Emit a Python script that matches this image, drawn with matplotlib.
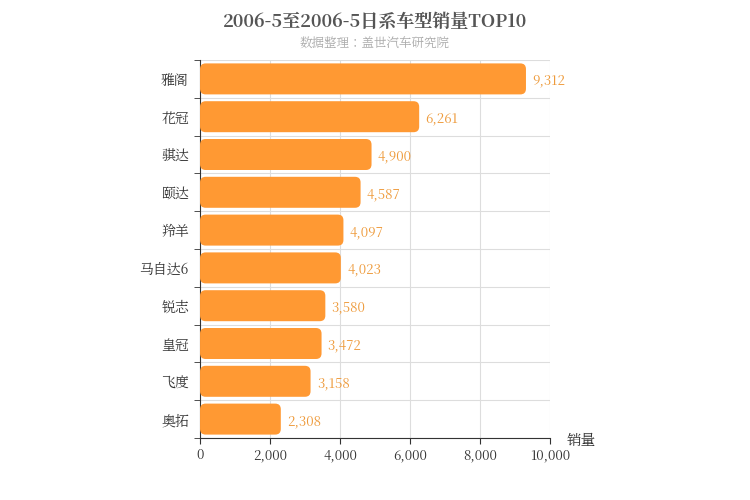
import matplotlib.pyplot as plt
from matplotlib import font_manager
from matplotlib.patches import FancyBboxPatch
from matplotlib.ticker import FixedLocator, FuncFormatter

# pick whatever CJK font is installed
cjk = [f.name for f in font_manager.fontManager.ttflist if "CJK" in f.name]
for f in font_manager.findSystemFonts():
    if "CJK" in f and not cjk:
        font_manager.fontManager.addfont(f)
        cjk = [font_manager.FontProperties(fname=f).get_name()]
pref = [n for n in cjk if "SC" in n] or cjk
plt.rcParams["font.family"] = "sans-serif"
plt.rcParams["font.sans-serif"] = pref[:1] + ["DejaVu Sans"]

models = ["雅阁", "花冠", "骐达", "颐达", "羚羊", "马自达6", "锐志", "皇冠", "飞度", "奥拓"]
sales = [9312, 6261, 4900, 4587, 4097, 4023, 3580, 3472, 3158, 2308]
x_ticks = [0, 2000, 4000, 6000, 8000, 10000]

fig = plt.figure(figsize=(7.5, 5), dpi=100)
ax = fig.add_axes([0.2667, 0.124, 0.4667, 0.756])
n = len(models)
ax.set_xlim(0, 10000)
ax.set_ylim(-0.5, n - 0.5)

ys = [n - 1 - i for i in range(n)]
h = 0.82
aspect = (10 / 378) / (10000 / 350)
for y, v in zip(ys, sales):
    p = FancyBboxPatch((0, y - h / 2), v, h,
                       boxstyle="round,pad=0,rounding_size=160",
                       mutation_aspect=aspect, fc="#ff9933", ec="none", zorder=3)
    ax.add_patch(p)
    ax.text(v + 180, y - 0.05, f"{v:,}", va="center", ha="left",
            fontsize=9.5, color="#ee9a3a", zorder=4)

ax.set_yticks(ys)
ax.set_yticklabels(models, fontsize=10, color="#333333")
ax.yaxis.set_minor_locator(FixedLocator([i + 0.5 for i in range(-1, n)]))
ax.set_xticks(x_ticks)
ax.xaxis.set_major_formatter(FuncFormatter(lambda v, _: f"{int(v):,}"))
ax.tick_params(axis="x", labelsize=9.5, colors="#333333", length=4)
ax.tick_params(axis="y", which="major", length=0, pad=8)
ax.tick_params(axis="y", which="minor", length=4, color="#333333")
ax.grid(axis="x", color="#dddddd", lw=0.8, zorder=0)
ax.grid(axis="y", which="minor", color="#dddddd", lw=0.8, zorder=0)
for s in ["top", "right"]:
    ax.spines[s].set_visible(False)
ax.spines["left"].set_color("#333333")
ax.spines["bottom"].set_color("#333333")

fig.text(0.5, 0.955, "2006-5至2006-5日系车型销量TOP10", ha="center", va="center",
         fontsize=13, fontweight="bold", color="#555555")
fig.text(0.5, 0.912, "数据整理：盖世汽车研究院", ha="center", va="center",
         fontsize=9, color="#aaaaaa")
fig.text(0.755, 0.118, "销量", ha="left", va="center", fontsize=10.5, color="#333333")

fig.savefig("out.png", dpi=100)
